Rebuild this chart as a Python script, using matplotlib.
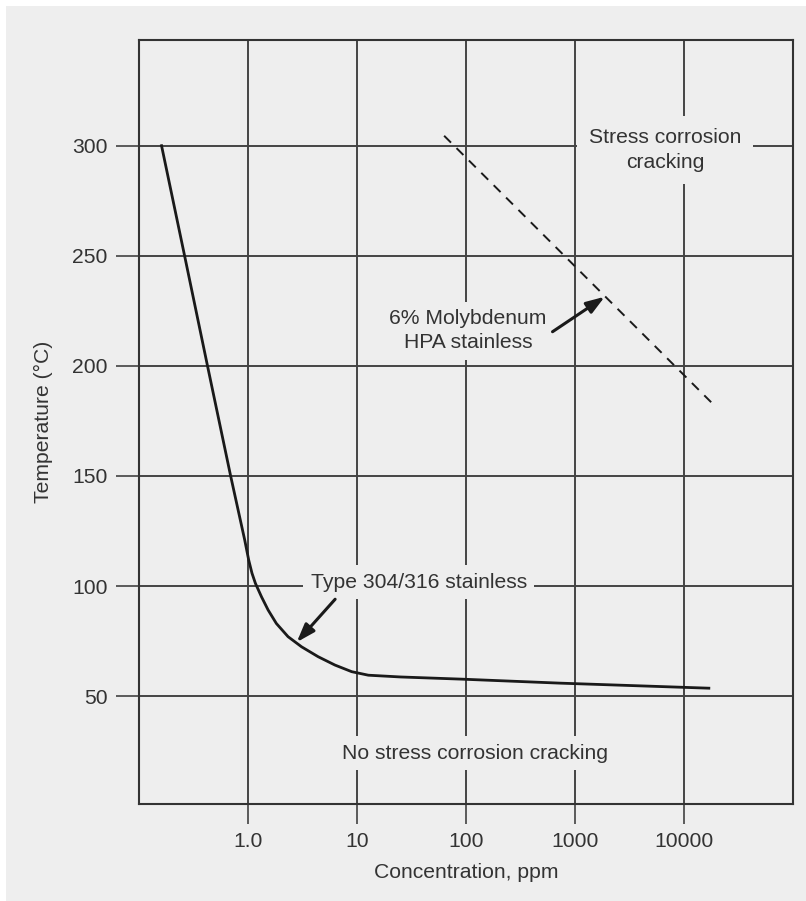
import matplotlib.pyplot as plt
from matplotlib.patches import Rectangle

plt.rcParams['font.family'] = ['Liberation Sans', 'DejaVu Sans']

# Type 304/316 stainless curve
conc_304 = [0.161, 0.262, 0.425, 0.693, 0.933, 1.015, 1.088, 1.17, 1.33, 1.53,
            1.82, 2.33, 3.10, 4.40, 6.28, 8.94, 12.7, 25, 92, 721, 16900]
temp_304 = [300, 250, 200, 150, 120.9, 111.8, 105.8, 101.2, 95.1, 89.1,
            83.0, 77.0, 72.4, 67.9, 64.1, 61.1, 59.5, 58.7, 57.7, 55.9, 53.6]

# 6% Mo HPA stainless line
conc_mo = [63, 19200]
temp_mo = [304.5, 181.8]

xticks = [1, 10, 100, 1000, 10000]
xticklabels = ['1.0', '10', '100', '1000', '10000']
yticks = [50, 100, 150, 200, 250, 300]

bg = '#eeeeee'
txt = '#333333'
fs = 15.2

fig = plt.figure(figsize=(8.06, 9.01), dpi=100)
fig.patches.append(Rectangle((6/806, 0), 1, 1 - 6/901, transform=fig.transFigure,
                             facecolor=bg, edgecolor='none', zorder=-10))
ax = fig.add_axes([139/806, 1 - 804/901, (793 - 139)/806, (804 - 40)/901])
ax.set_facecolor(bg)
ax.set_xscale('log')
ax.set_xlim(0.1, 1e5)
ax.set_ylim(1, 348)
ax.set_axisbelow(True)

ax.set_xticks(xticks)
ax.set_xticklabels(xticklabels)
ax.minorticks_off()
ax.set_yticks(yticks)
ax.tick_params(axis='y', length=16.5, width=1.1, color='#333333', pad=6,
               labelsize=fs, labelcolor=txt)
ax.tick_params(axis='x', length=14.5, width=1.1, color='#333333', pad=6,
               labelsize=fs, labelcolor=txt)
ax.grid(True, color='#444444', lw=1.4)
for s in ax.spines.values():
    s.set_color('#333333')
    s.set_linewidth(1.5)

ax.plot(conc_304, temp_304, color='#1a1a1a', lw=2.0, zorder=2)
ax.plot(conc_mo, temp_mo, color='#1a1a1a', lw=1.4, ls=(0, (5, 4)), zorder=2)

box = dict(facecolor=bg, edgecolor='none', boxstyle='square,pad=0.35')
wide = dict(facecolor=bg, edgecolor='none', boxstyle='square,pad=0.55')
ax.text(6670, 298, 'Stress corrosion\ncracking', ha='center', va='center',
        multialignment='center', fontsize=fs, color=txt, bbox=wide, linespacing=1.4)
ax.text(104, 216, '6% Molybdenum\nHPA stainless', ha='center', va='center',
        multialignment='center', fontsize=fs, color=txt, bbox=box, linespacing=1.35)
ax.text(37, 101.8, 'Type 304/316 stainless', ha='center', va='center',
        fontsize=fs, color=txt, bbox=box)
ax.text(122, 24, 'No stress corrosion cracking', ha='center', va='center',
        fontsize=fs, color=txt, bbox=box)

arrow = dict(arrowstyle='-|>,head_length=1.1,head_width=0.38', color='#1a1a1a',
             lw=2.2, shrinkA=0, shrinkB=0)
ax.annotate('', xy=(1875, 231.4), xytext=(622, 215.5), arrowprops=arrow)
ax.annotate('', xy=(2.8, 74.5), xytext=(6.3, 94), arrowprops=arrow)

ax.set_xlabel('Concentration, ppm', fontsize=fs, color=txt, labelpad=8)
ax.set_ylabel('Temperature (°C)', fontsize=fs, color=txt, labelpad=14)

fig.savefig('out.png', dpi=100)
